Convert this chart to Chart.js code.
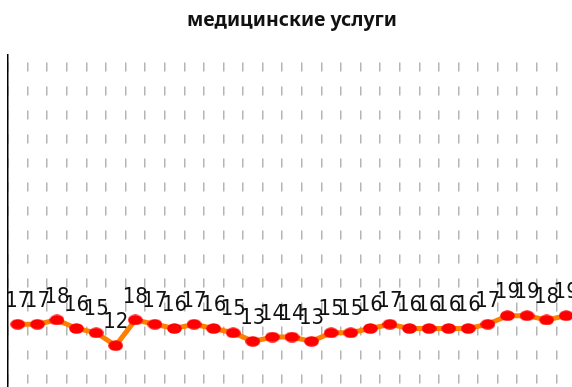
<!DOCTYPE html>
<html>
<head>
<meta charset="utf-8">
<script src="https://cdn.jsdelivr.net/npm/chart.js@4"></script>
<style>
    html, body { margin: 0; padding: 0; background: #fff; overflow: hidden; width: 572px; height: 387px; }
    #marco { width: 572px; height: 387px; overflow: hidden; position: relative; }
    canvas { display: block; position: absolute; left: 0; top: 0; }
</style>
</head>
<body>
<div id="marco"><canvas id="graficoUslugi" width="580" height="410"></canvas></div>
<script>
// Данные графика
const dias = ['1', '2', '3', '4', '5', '6', '7', '8', '9', '10', '11', '12', '13', '14', '15',
              '16', '17', '18', '19', '20', '21', '22', '23', '24', '25', '26', '27', '28', '29'];
const uslugi = [17, 17, 18, 16, 15, 12, 18, 17, 16, 17, 16, 15, 13, 14, 14,
                13, 15, 15, 16, 17, 16, 16, 16, 16, 17, 19, 19, 18, 19];
const ejeY = { min: 0, max: 80 };

// Marcador rojo ligeramente ovalado
function crearPunto() {
    const c = document.createElement('canvas');
    c.width = 15; c.height = 11;
    const g = c.getContext('2d');
    g.fillStyle = '#ff0000';
    g.beginPath();
    g.ellipse(7.5, 5.5, 7.3, 5.3, 0, 0, Math.PI * 2);
    g.fill();
    return c;
}

// Etiquetas de valor encima de cada punto
const etiquetas = {
    id: 'etiquetas',
    afterDatasetsDraw(chart) {
        const ctx = chart.ctx;
        const meta = chart.getDatasetMeta(0);
        ctx.save();
        ctx.font = '22px "Liberation Sans Narrow", "DejaVu Sans Condensed", sans-serif';
        ctx.fillStyle = '#111';
        ctx.textAlign = 'center';
        ctx.textBaseline = 'middle';
        meta.data.forEach((p, i) => {
            ctx.fillText(String(chart.data.datasets[0].data[i]), p.x, p.y - 23);
        });
        ctx.restore();
    }
};

document.addEventListener("DOMContentLoaded", () => {
    const ctx = document.getElementById('graficoUslugi').getContext('2d');
    const punto = crearPunto();

    new Chart(ctx, {
        type: 'line',
        data: {
            labels: dias,
            datasets: [{
                label: 'медицинские услуги',
                data: uslugi,
                borderColor: '#ff7f00',
                borderWidth: 5,
                tension: 0,
                fill: false,
                pointStyle: punto,
                pointRadius: 7,
                pointHoverRadius: 7
            }]
        },
        options: {
            responsive: false,
            animation: false,
            events: [],
            layout: { autoPadding: false, padding: { left: 8, right: 4, top: 0, bottom: 13 } },
            plugins: {
                legend: { display: false },
                tooltip: { enabled: false },
                title: {
                    display: true,
                    text: 'медицинские услуги',
                    color: '#111',
                    font: { family: '"Noto Sans", sans-serif', size: 19.5, weight: 'bold' },
                    padding: { top: 9, bottom: 22 }
                }
            },
            scales: {
                x: {
                    offset: true,
                    ticks: { display: false },
                    grid: {
                        display: true,
                        offset: true,
                        drawTicks: false,
                        color: '#b4b4b4',
                        lineWidth: 1.5
                    },
                    border: { display: false, dash: [9, 15], dashOffset: 16 }
                },
                y: {
                    min: ejeY.min,
                    max: ejeY.max,
                    ticks: { display: false },
                    grid: { display: false, drawTicks: false },
                    border: { display: true, color: '#000', width: 1.5 }
                }
            }
        },
        plugins: [etiquetas]
    });
});
</script>
</body>
</html>
